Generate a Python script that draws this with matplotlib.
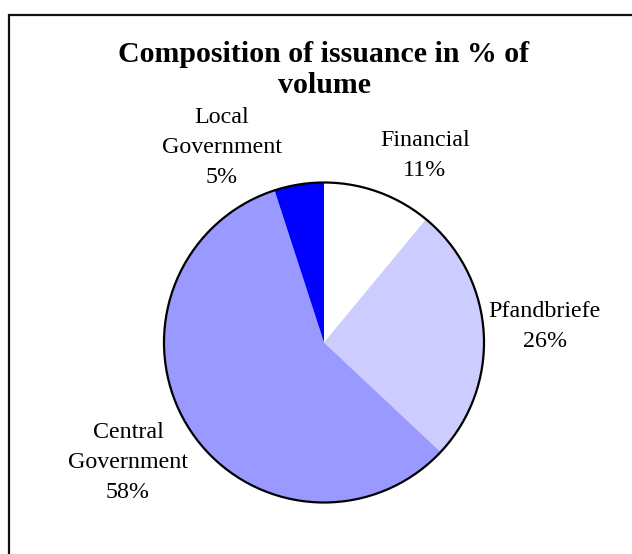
import matplotlib
matplotlib.use("Agg")
import matplotlib.pyplot as plt
from matplotlib.patches import Circle, Rectangle

plt.rcParams["font.family"] = ["Liberation Serif", "DejaVu Serif"]

# Issuance composition (% of volume), clockwise from 12 o'clock
categories = ["Financial", "Pfandbriefe", "Central\nGovernment", "Local\nGovernment"]
shares = [11, 26, 58, 5]
colors = ["#FFFFFF", "#CCCCFF", "#9999FF", "#0000FF"]

# label anchor points in pie units (radius = 1)
label_pos = [(0.63, 1.17), (1.38, 0.10), (-1.225, -0.75), (-0.64, 1.22)]

W, H = 632, 554
fig = plt.figure(figsize=(W / 100, H / 100), dpi=100)

# outer chart frame
fig.patches.append(Rectangle((9 / W, -0.05), 1.2, 1 - 15 / H + 0.05,
                             transform=fig.transFigure, fill=False,
                             edgecolor="#111111", linewidth=1.6))

fig.text(324 / W, 1 - 70 / H, "Composition of issuance in % of\nvolume",
         ha="center", va="center", fontsize=21.5, fontweight="bold",
         linespacing=1.2)

# pie axes: unit radius = r pixels, with a small margin for the outline
cx, cy, r = 324, 342.5, 160
m = 1.05
ax = fig.add_axes([(cx - m * r) / W, (H - cy - m * r) / H,
                   2 * m * r / W, 2 * m * r / H])
wedges, _ = ax.pie(shares, colors=colors, startangle=90, counterclock=False,
                   radius=1, wedgeprops=dict(linewidth=0))
ax.add_patch(Circle((0, 0), 1, fill=False, edgecolor="black", linewidth=1.6))
ax.set_xlim(-m, m)
ax.set_ylim(-m, m)
ax.set_aspect("auto")
ax.axis("off")

for name, val, (x, y) in zip(categories, shares, label_pos):
    ax.text(x, y, f"{name}\n{val}%", ha="center", va="center", fontsize=17.3,
            linespacing=1.55, clip_on=False)

fig.savefig("out.png", dpi=100)
